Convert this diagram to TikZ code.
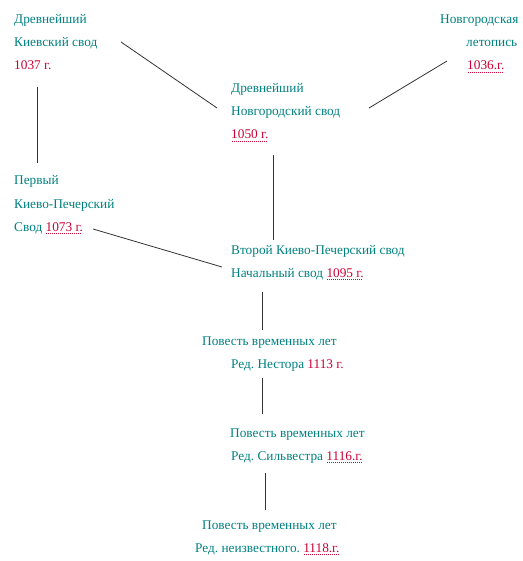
\documentclass[tikz,border=0pt]{standalone}
\usepackage{fontspec}
\setmainfont{Liberation Serif}

\definecolor{chronteal}{RGB}{0,128,128}
\definecolor{chronred}{RGB}{204,0,51}
\newcommand{\yr}[1]{\textcolor{chronred}{#1}}
\newcommand{\yrdot}[1]{\textcolor{chronred}{\setbox0\hbox{#1}\rlap{\hbox to \wd0{\leaders\hbox to 2pt{\hss\vrule height -1.9pt depth 2.7pt width 0.9pt\hss}\hfill}}\box0}}

\tikzset{
  txt/.style={anchor=base west, inner sep=0pt, font=\fontsize{13.3}{15}\selectfont\frenchspacing, text=chronteal},
  link/.style={line width=0.8pt, black!80},
}

\begin{document}
\begin{tikzpicture}[x=1pt, y=-1pt]
  \useasboundingbox (0,0) rectangle (522,561);

  % -- Kiev and Novgorod (top row) --
  \node[txt] (kievA) at (14,24) {Древнейший};
  \node[txt] (kievB) at (14,47) {Киевский свод};
  \node[txt] (kievC) at (14,70) {\yr{1037 г.}};

  \node[txt] (novA) at (440,24) {Новгородская};
  \node[txt] (novB) at (466,47) {летопись};
  \node[txt] (novC) at (467,70) {\yrdot{1036.г.}};

  \node[txt] (novsvA) at (231,93) {Древнейший};
  \node[txt] (novsvB) at (231,116) {Новгородский свод};
  \node[txt] (novsvC) at (231,139) {\yrdot{1050 г.}};

  % -- Kiev-Pechersk vaults --
  \node[txt] (pechA) at (14,185) {Первый};
  \node[txt] (pechB) at (14,208) {Киево-Печерский};
  \node[txt] (pechC) at (14,231) {Свод \yrdot{1073 г.}};

  \node[txt] (initA) at (231,254) {Второй Киево-Печерский свод};
  \node[txt] (initB) at (231,277) {Начальный свод \yrdot{1095 г.}};

  % -- Tale of Bygone Years --
  \node[txt] (nestA) at (202,345) {Повесть временных лет};
  \node[txt] (nestB) at (231,368) {Ред. Нестора \yr{1113 г.}};

  \node[txt] (silvA) at (230,437) {Повесть временных лет};
  \node[txt] (silvB) at (231,460) {Ред. Сильвестра \yrdot{1116.г.}};

  \node[txt] (unkA) at (202,529) {Повесть временных лет};
  \node[txt] (unkB) at (195,552) {Ред. неизвестного. \yrdot{1118.г.}};

  % -- Connector ends --
  \coordinate (kievOut) at (121,42);
  \coordinate (kievDown) at (37,87);
  \coordinate (novOut) at (447,61);
  \coordinate (novsvInL) at (217,108);
  \coordinate (novsvInR) at (369,108);
  \coordinate (novsvDown) at (273,155);
  \coordinate (pechTop) at (37,163);
  \coordinate (pechOut) at (93,229);
  \coordinate (initTop) at (273,240);
  \coordinate (initInL) at (222,267);
  \coordinate (initDown) at (262,292);
  \coordinate (nestTop) at (262,330);
  \coordinate (nestDown) at (262,378);
  \coordinate (silvTop) at (262,414);
  \coordinate (silvDown) at (265,473);
  \coordinate (unkTop) at (265,510);

  % -- Connectors --
  \draw[link] (kievOut) -- (novsvInL);
  \draw[link] (novOut) -- (novsvInR);
  \draw[link] (kievDown) -- (pechTop);
  \draw[link] (novsvDown) -- (initTop);
  \draw[link] (pechOut) -- (initInL);
  \draw[link] (initDown) -- (nestTop);
  \draw[link] (nestDown) -- (silvTop);
  \draw[link] (silvDown) -- (unkTop);

\end{tikzpicture}
\end{document}
